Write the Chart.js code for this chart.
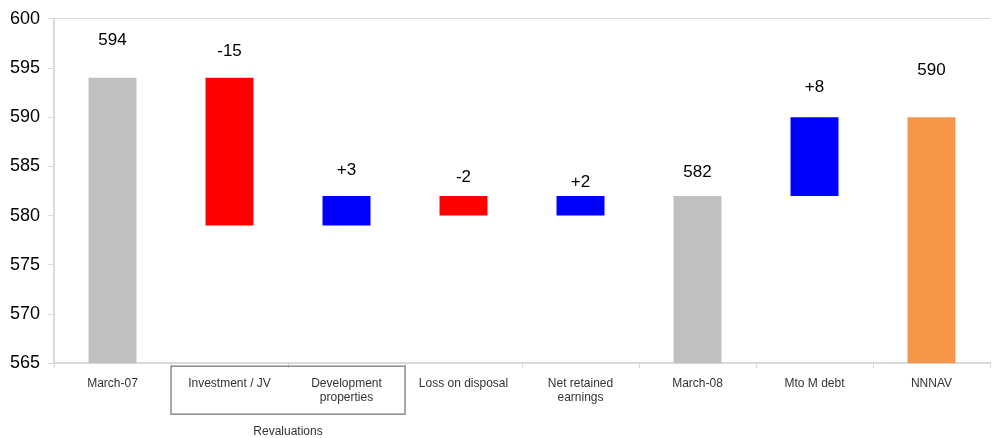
<!DOCTYPE html>
<html>
<head>
<meta charset="utf-8">
<script src="https://cdn.jsdelivr.net/npm/chart.js@4.4.1/dist/chart.umd.min.js"></script>
<style>
    html, body { margin: 0; padding: 0; background: #fff; }
    #wrap { width: 993px; height: 438px; }
</style>
</head>
<body>
<div id="wrap"><canvas id="myChart"></canvas></div>
<script>
const categories = ['March-07', 'Investment / JV', ['Development', 'properties'], 'Loss on disposal',
    ['Net retained', 'earnings'], 'March-08', 'Mto M debt', 'NNNAV'];
const barFrom = [565, 579, 579, 580, 580, 565, 582, 565];
const barTo = [594, 594, 582, 582, 582, 582, 590, 590];
const valueLabels = ['594', '-15', '+3', '-2', '+2', '582', '+8', '590'];
const labelPos = [597.8, 596.7, 584.6, 583.9, 583.4, 584.4, 593.0, 594.8];
const barColors = ['#c0c0c0', '#ff0000', '#0000ff', '#ff0000', '#0000ff', '#c0c0c0', '#0000ff', '#f79646'];
const yTicks = [565, 570, 575, 580, 585, 590, 595, 600];

const FONT = '"Liberation Sans", Arial, sans-serif';

const labelsPlugin = {
    id: 'valueLabels',
    afterDatasetsDraw(chart) {
        const c = chart.ctx;
        const meta = chart.getDatasetMeta(0);
        const y = chart.scales.y;
        c.save();
        c.font = '17px ' + FONT;
        c.fillStyle = '#000';
        c.textAlign = 'center';
        c.textBaseline = 'middle';
        meta.data.forEach((bar, i) => {
            c.fillText(valueLabels[i], bar.x, y.getPixelForValue(labelPos[i]));
        });
        c.restore();
    }
};

const groupPlugin = {
    id: 'groupBox',
    afterDraw(chart) {
        const c = chart.ctx;
        const x = chart.scales.x;
        const area = chart.chartArea;
        const left = (x.getPixelForValue(0) + x.getPixelForValue(1)) / 2;
        const right = (x.getPixelForValue(2) + x.getPixelForValue(3)) / 2;
        const top = area.bottom + 3;
        const bottom = area.bottom + 51;
        c.save();
        c.strokeStyle = '#8c8c8c';
        c.lineWidth = 1.5;
        c.strokeRect(left, top, right - left, bottom - top);
        c.font = '12px ' + FONT;
        c.fillStyle = '#333';
        c.textAlign = 'center';
        c.textBaseline = 'middle';
        c.fillText('Revaluations', (left + right) / 2, area.bottom + 68);
        c.restore();
    }
};

new Chart(document.getElementById('myChart'), {
    type: 'bar',
    data: {
        labels: categories,
        datasets: [{
            data: barFrom.map((v, i) => [v, barTo[i]]),
            backgroundColor: barColors,
            borderWidth: 0,
            categoryPercentage: 1,
            barPercentage: 0.41
        }]
    },
    options: {
        responsive: true,
        maintainAspectRatio: false,
        animation: false,
        layout: { padding: { top: 0, right: 3, bottom: 25, left: 2 } },
        plugins: {
            legend: { display: false },
            tooltip: { enabled: false }
        },
        scales: {
            x: {
                grid: {
                    offset: true,
                    drawOnChartArea: false,
                    tickLength: 5,
                    tickColor: '#d9d9d9'
                },
                border: { color: '#d9d9d9', width: 2 },
                ticks: {
                    font: { family: FONT, size: 12 },
                    color: '#333',
                    maxRotation: 0,
                    autoSkip: false,
                    padding: 8
                }
            },
            y: {
                min: 565,
                max: 600,
                afterBuildTicks(axis) {
                    axis.ticks = yTicks.map(v => ({ value: v }));
                },
                grid: {
                    color: ctx => (ctx.tick && ctx.tick.value === 600 ? '#d9d9d9' : 'rgba(0,0,0,0)'),
                    tickColor: '#d9d9d9',
                    tickLength: 6
                },
                border: { color: '#d9d9d9', width: 2 },
                ticks: {
                    font: { family: FONT, size: 18 },
                    color: '#000',
                    padding: 8
                }
            }
        }
    },
    plugins: [labelsPlugin, groupPlugin]
});
</script>
</body>
</html>
